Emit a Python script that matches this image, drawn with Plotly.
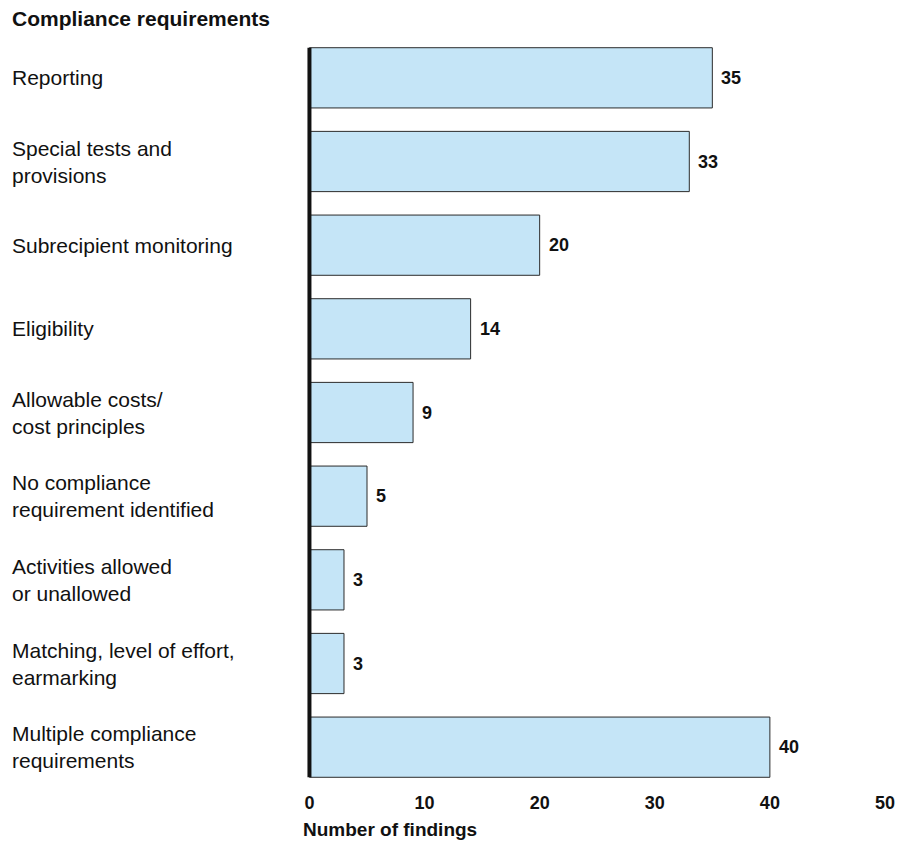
import plotly.graph_objects as go

categories = [
    "Reporting",
    "Special tests and<br>provisions",
    "Subrecipient monitoring",
    "Eligibility",
    "Allowable costs/<br>cost principles",
    "No compliance<br>requirement identified",
    "Activities allowed<br>or unallowed",
    "Matching, level of effort,<br>earmarking",
    "Multiple compliance<br>requirements",
]
findings = [35, 33, 20, 14, 9, 5, 3, 3, 40]
x_ticks = [0, 10, 20, 30, 40, 50]

FONT = "Liberation Sans, Arial, sans-serif"
W, H = 907, 841
XMIN = -0.3
ML, MR, MT, MB = 306, 22, 36, 52
BAR_W = 0.72
PW = W - ML - MR

ypos = list(range(len(categories)))

fig = go.Figure()
fig.add_trace(go.Bar(
    x=findings, y=ypos, orientation="h", width=BAR_W,
    marker=dict(color="#C5E5F7", line=dict(color="#2b2b2b", width=1)),
    hoverinfo="skip", showlegend=False,
))

annotations = []
for i, (c, v) in enumerate(zip(categories, findings)):
    annotations.append(dict(
        x=(10 - ML) / PW, xref="paper", y=i, yref="y",
        text=c, showarrow=False, xanchor="left", yanchor="middle", align="left",
        font=dict(family=FONT, size=21, color="#111"),
    ))
    annotations.append(dict(
        x=v, xref="x", y=i, yref="y", text=f"<b>{v}</b>", showarrow=False,
        xanchor="left", yanchor="middle", xshift=7,
        font=dict(family=FONT, size=18, color="#111"),
    ))
annotations.append(dict(
    x=(10 - ML) / PW, xref="paper", y=1, yref="paper", yshift=18,
    text="<b>Compliance requirements</b>", showarrow=False, xanchor="left", yanchor="middle",
    font=dict(family=FONT, size=21, color="#111"),
))
annotations.append(dict(
    x=(301 - ML) / PW, xref="paper", y=0, yref="paper", yshift=-40,
    text="<b>Number of findings</b>", showarrow=False, xanchor="left", yanchor="middle",
    font=dict(family=FONT, size=19, color="#111"),
))

fig.add_shape(type="line", xref="x", yref="y", x0=0, x1=0,
              y0=-BAR_W / 2, y1=len(categories) - 1 + BAR_W / 2,
              line=dict(color="#111", width=4), layer="above")

fig.update_layout(
    width=W, height=H,
    margin=dict(l=ML, r=MR, t=MT, b=MB),
    plot_bgcolor="white", paper_bgcolor="white",
    font=dict(family=FONT, color="#111"),
    annotations=annotations,
)
fig.update_xaxes(
    range=[XMIN, 50], tickvals=x_ticks, ticktext=[f"<b>{t}</b>" for t in x_ticks],
    showgrid=False, zeroline=False, showline=False, ticks="",
    tickfont=dict(family=FONT, size=18, color="#111"), ticklabelstandoff=1,
)
fig.update_yaxes(
    range=[len(categories) - 0.5, -0.5], showticklabels=False,
    showgrid=False, zeroline=False, showline=False, ticks="",
)

fig.write_html("out.html")
